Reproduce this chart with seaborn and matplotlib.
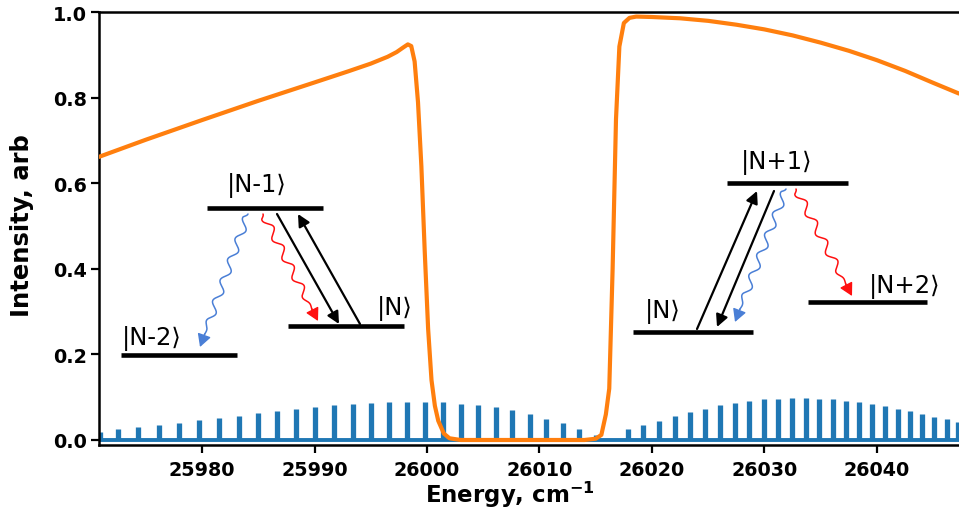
import numpy as np
import pandas as pd
import seaborn as sns
import matplotlib
matplotlib.use("Agg")
import matplotlib.pyplot as plt
from matplotlib.transforms import Affine2D
from matplotlib.patches import FancyArrowPatch

# ---------------- data ----------------
line_energy = [25970.93, 25972.56, 25974.34, 25976.18, 25977.98, 25979.73, 25981.51,
               25983.33, 25984.95, 25986.69, 25988.36, 25990.04, 25991.73, 25993.40,
               25995.02, 25996.60, 25998.25, 25999.82, 26001.45, 26003.02, 26004.56,
               26006.11, 26007.58, 26009.12, 26010.58, 26012.06, 26013.54, 26014.99,
               26017.84, 26019.23, 26020.65, 26022.04, 26023.38, 26024.71, 26026.04,
               26027.38, 26028.65, 26029.93, 26031.23, 26032.47, 26033.69, 26034.86,
               26036.06, 26037.24, 26038.40, 26039.53, 26040.71, 26041.84, 26042.93,
               26044.03, 26045.09, 26046.20, 26047.23]
line_intensity = [0.018, 0.026, 0.030, 0.035, 0.040, 0.046, 0.051,
                  0.055, 0.062, 0.067, 0.073, 0.078, 0.081, 0.085,
                  0.087, 0.088, 0.089, 0.089, 0.088, 0.085, 0.081,
                  0.077, 0.069, 0.061, 0.050, 0.040, 0.026, 0.011,
                  0.026, 0.034, 0.044, 0.055, 0.065, 0.073, 0.081,
                  0.087, 0.091, 0.095, 0.097, 0.098, 0.098, 0.096,
                  0.095, 0.092, 0.088, 0.084, 0.079, 0.073, 0.067,
                  0.061, 0.054, 0.048, 0.043]

filter_energy = [25970.84, 25975.0, 25980.0, 25985.0, 25990.0, 25993.0, 25995.0,
                 25996.5, 25997.3, 25997.9, 25998.3, 25998.6, 25998.9, 25999.2,
                 25999.5, 25999.8, 26000.1, 26000.4, 26000.7, 26001.0, 26001.5,
                 26002.0, 26003.0, 26014.0, 26015.0, 26015.5, 26015.9, 26016.2,
                 26016.5, 26016.8, 26017.1, 26017.5, 26018.0, 26018.6, 26020.0,
                 26022.5, 26025.0, 26027.5, 26030.0, 26032.5, 26035.0, 26037.5,
                 26040.0, 26042.5, 26045.0, 26047.29]
filter_transmission = [0.662, 0.702, 0.748, 0.793, 0.836, 0.862, 0.880,
                       0.896, 0.907, 0.918, 0.925, 0.921, 0.885, 0.790,
                       0.640, 0.440, 0.260, 0.140, 0.080, 0.045, 0.015,
                       0.004, 0.0, 0.0, 0.003, 0.012, 0.060, 0.120,
                       0.400, 0.750, 0.920, 0.975, 0.987, 0.990, 0.989,
                       0.986, 0.980, 0.971, 0.960, 0.946, 0.929, 0.910,
                       0.888, 0.863, 0.835, 0.810]

x_ticks = [25980, 25990, 26000, 26010, 26020, 26030, 26040]
y_ticks = [0.0, 0.2, 0.4, 0.6, 0.8, 1.0]
y_tick_labels = ["0.0", "0.2", "0.4", "0.6", "0.8", "1.0"]

level_labels = ["|N-1⟩", "|N-2⟩", "|N⟩", "|N+1⟩", "|N⟩", "|N+2⟩"]

# ---------------- style ----------------
sns.set_theme(style="ticks")
plt.rcParams["font.family"] = ["DejaVu Sans"]
plt.rcParams["mathtext.fontset"] = "custom"
plt.rcParams["mathtext.rm"] = "DejaVu Sans:bold"
plt.rcParams["mathtext.bf"] = "DejaVu Sans:bold"
for key in ["text.color", "axes.labelcolor", "xtick.color", "ytick.color",
            "axes.edgecolor"]:
    plt.rcParams[key] = "black"

W, H = 959, 510
fig = plt.figure(figsize=(W / 100, H / 100), dpi=100)
ax = fig.add_axes([99 / W, (H - 446) / H, 1 - 99 / W, (446 - 13.3) / H])

spec = pd.DataFrame({"energy": line_energy, "intensity": line_intensity})
filt = pd.DataFrame({"energy": filter_energy, "transmission": filter_transmission})

BLUE = "#1f77b4"
ORANGE = "#ff7f0e"

ax.axhline(0, color=BLUE, lw=2.8, zorder=2)
ax.vlines(spec["energy"], 0, spec["intensity"], color=BLUE, lw=3.8, zorder=2)
sns.lineplot(data=filt, x="energy", y="transmission", color=ORANGE, lw=3.0,
             ax=ax, zorder=3, sort=False)

ax.set_xlim(25970.844, 26047.29)
ax.set_ylim(-0.0117, 1.0)
ax.set_xticks(x_ticks)
ax.set_xticklabels([str(t) for t in x_ticks])
ax.set_yticks(y_ticks)
ax.set_yticklabels(y_tick_labels)
ax.tick_params(axis="both", width=1.6, length=5.5, labelsize=13.8, color="black",
               labelcolor="black")
ax.tick_params(axis="x", pad=5)
ax.tick_params(axis="y", pad=3)
for lbl in ax.get_xticklabels() + ax.get_yticklabels():
    lbl.set_fontweight("bold")

for side in ["left", "bottom", "top"]:
    ax.spines[side].set_visible(True)
    ax.spines[side].set_linewidth(1.8)
    ax.spines[side].set_color("black")
ax.spines["right"].set_visible(False)

ax.set_xlabel(r"Energy, cm$^{\mathbf{-1}}$", fontsize=16.5, fontweight="bold",
              color="black")
ax.set_ylabel("Intensity, arb", fontsize=17.5, fontweight="bold", color="black")
ax.xaxis.set_label_coords((510 - 99) / 860, -0.077)
ax.yaxis.set_label_coords(-(99 - 34) / 860, 0.51)

# ---------------- energy-level diagrams (decoration, pixel layout) ----------------
px = Affine2D().scale(1 / W, -1 / H).translate(0, 1) + fig.transFigure

levels = [(207, 323, 209), (121, 237, 356), (288, 404, 327),
          (727, 848, 183.5), (633, 753, 333), (808, 927, 303)]
label_pos = [(257, 186), (152, 339), (395, 309), (777, 163), (663, 312), (905, 287)]

for (x0, x1, y) in levels:
    fig.add_artist(plt.Line2D([x0, x1], [y, y], transform=px, color="black",
                              lw=3.3, solid_capstyle="butt"))
for txt, (cx, cy) in zip(level_labels, label_pos):
    fig.text(cx, cy, txt, transform=px, ha="center", va="center",
             fontsize=17.5, fontweight="normal", color="black",
             family=["DejaVu Sans"])

straight = [((277, 215), (339, 325)), ((360, 325), (298, 215)),
            ((697, 330), (757, 192)), ((774, 192), (717, 328))]
for a, b in straight:
    fig.add_artist(FancyArrowPatch(a, b, transform=px, arrowstyle="-|>",
                                   mutation_scale=18, lw=1.6, color="black",
                                   shrinkA=0, shrinkB=0))


def wavy(a, b, wl=22.0, amp=3.8, tail=16.0, head=14.0):
    a = np.asarray(a, float)
    b = np.asarray(b, float)
    d = b - a
    L = np.hypot(*d)
    u = d / L
    n = np.array([-u[1], u[0]])
    s = np.linspace(0, L - head + 1, 300)
    env = np.clip((L - head - s) / tail, 0, 1) * np.clip(s / 4.0, 0, 1)
    off = amp * np.sin(2 * np.pi * s / wl) * env
    pts = a[None, :] + s[:, None] * u[None, :] + off[:, None] * n[None, :]
    return pts, a + (L - head) * u


wavy_arrows = [((248, 215), (200, 348), "#4a7fd6"),
               ((263, 215), (318, 322), "#ff1010"),
               ((786, 190), (735, 323), "#4a7fd6"),
               ((796, 190), (852, 297), "#ff1010")]
for a, b, c in wavy_arrows:
    pts, hstart = wavy(a, b)
    fig.add_artist(plt.Line2D(pts[:, 0], pts[:, 1], transform=px, color=c, lw=1.1))
    fig.add_artist(FancyArrowPatch(tuple(hstart), tuple(b), transform=px,
                                   arrowstyle="-|>,head_length=0.55,head_width=0.3",
                                   mutation_scale=14, lw=1.0, color=c,
                                   shrinkA=0, shrinkB=0))

fig.savefig("out.png", dpi=100)
